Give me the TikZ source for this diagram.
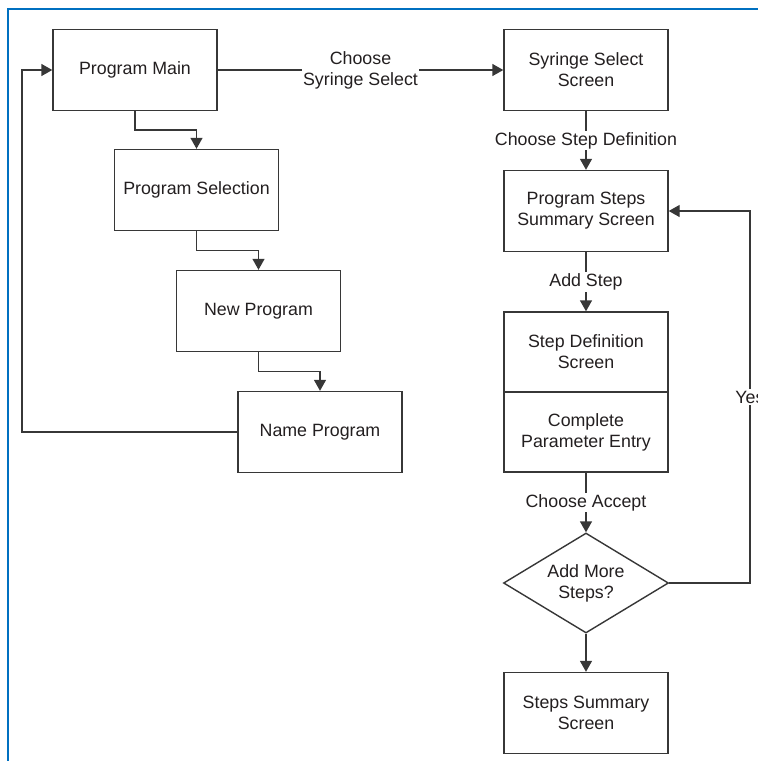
\documentclass[tikz,border=0pt]{standalone}
\usepackage{fontspec}
\setmainfont{Liberation Sans}
\usepackage{xcolor}
\usepackage{tikz}
\usetikzlibrary{arrows.meta, positioning, calc, shapes.geometric}
\definecolor{FrameBlue}{RGB}{0, 112, 192}
\definecolor{DarkText}{RGB}{35, 31, 32}
\definecolor{LineGray}{RGB}{55, 55, 55}

\begin{document}
\begin{tikzpicture}[x=1pt, y=-1pt,
    every node/.style={font=\fontsize{17.8}{21}\selectfont, text=DarkText},
    box/.style={draw=LineGray, line width=1.4pt, fill=white, minimum width=164pt, minimum height=81pt, align=center, inner sep=0pt},
    decision/.style={draw=LineGray, line width=1.4pt, fill=white, diamond, shape aspect=1.64, minimum width=165pt, minimum height=100pt, align=center, inner sep=0pt},
    link/.style={draw=LineGray, line width=1.4pt, -{Triangle[length=11pt, width=12pt]}},
    lbl/.style={fill=white, align=center, inner sep=1.5pt}]
      \useasboundingbox (0,0) rectangle (758,761);
      \draw[FrameBlue, line width=2pt] (758,9) -- (8,9) -- (8,761);

      \node[box] (main) at (135,70) {Program Main};
      \node[box] (select) at (196.5,190) {Program Selection};
      \node[box] (newprog) at (258.5,311) {New Program};
      \node[box] (nameprog) at (320,432) {Name Program};

      \node[box] (syringe) at (586,70) {Syringe Select\\Screen};
      \node[box] (steps) at (586,211) {Program Steps\\Summary Screen};
      \node[box, minimum height=80pt] (stepdef) at (586,352) {Step Definition\\Screen};
      \node[box, minimum height=80pt] (params) at (586,432) {Complete\\Parameter Entry};
      \node[decision] (more) at (586,583) {Add More\\Steps?};
      \node[box] (summary) at (586,713) {Steps Summary\\Screen};

      \draw[link] (main.south) |- ($(main.south)!0.5!(select.north)$) -| (select.north);
      \draw[link] (select.south) |- ($(select.south)!0.5!(newprog.north)$) -| (newprog.north);
      \draw[link] (newprog.south) |- ($(newprog.south)!0.5!(nameprog.north)$) -| (nameprog.north);
      \coordinate (back) at (22,432);
      \draw[link] (nameprog.west) -- (back) |- (main.west);

      \draw[link] (main.east) -- node[lbl] {Choose\\Syringe Select} (syringe.west);
      \draw[link] (syringe.south) -- node[lbl] {Choose Step Definition} (steps.north);
      \draw[link] (steps.south) -- node[lbl] {Add Step} (stepdef.north);
      \draw[link] (params.south) -- node[lbl] {Choose Accept} (more.north);
      \draw[link] (more.south) -- (summary.north);

      \coordinate (loop) at (750,583);
      \draw[link] (more.east) -- (loop) -- node[lbl] {Yes} (loop |- steps.east) -- (steps.east);
    \end{tikzpicture}
\end{document}
